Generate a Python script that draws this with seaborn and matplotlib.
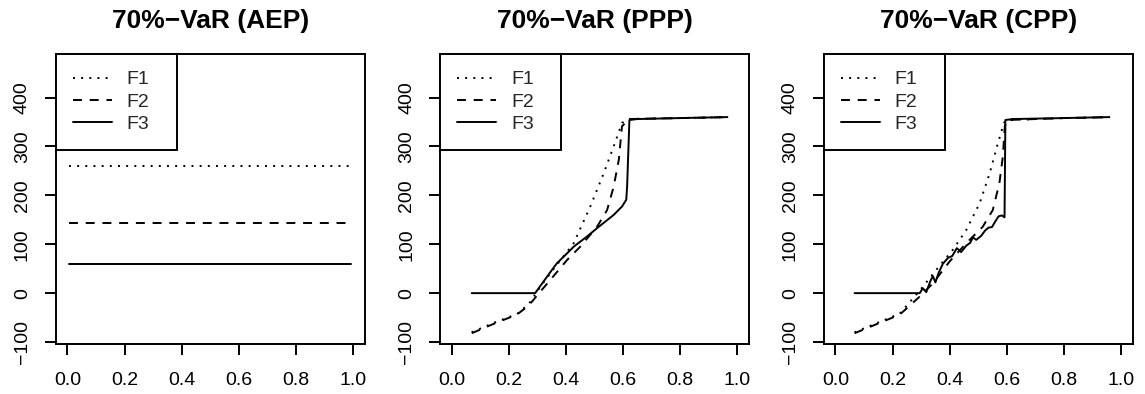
import numpy as np
import pandas as pd
import matplotlib
matplotlib.use("Agg")
import matplotlib.pyplot as plt
import seaborn as sns

# ---------------- data ----------------
titles = ["70%\u2212VaR (AEP)", "70%\u2212VaR (PPP)", "70%\u2212VaR (CPP)"]
labels = ["F1", "F2", "F3"]
x_ticks = [0.0, 0.2, 0.4, 0.6, 0.8, 1.0]
y_ticks = [-100, 0, 100, 200, 300, 400]

# AEP (constant levels)
aep_x = [0.007, 0.993]
aep_f1 = [260, 260]
aep_f2 = [143, 143]
aep_f3 = [59, 59]

# PPP
ppp_f1_x = [0.07, 0.15, 0.228, 0.27, 0.31, 0.368, 0.427, 0.485, 0.532, 0.567, 0.596, 0.62, 0.70, 0.80, 0.90, 0.965]
ppp_f1_y = [-80, -60, -43, -22, 13, 58, 102, 177, 245, 300, 348, 356, 357, 358, 359, 360]
ppp_f2_x = [0.07, 0.15, 0.228, 0.27, 0.31, 0.345, 0.404, 0.45, 0.509, 0.544, 0.567, 0.585, 0.596, 0.62, 0.70, 0.80, 0.90, 0.965]
ppp_f2_y = [-82, -62, -44, -25, 3, 27, 68, 95, 136, 170, 218, 273, 341, 356, 357, 358, 359, 360]
ppp_f3_x = [0.07, 0.292, 0.351, 0.368, 0.398, 0.427, 0.474, 0.509, 0.567, 0.596, 0.611, 0.614, 0.622, 0.65, 0.80, 0.965]
ppp_f3_y = [0, 0, 47.6, 61, 78, 95, 116, 133, 160, 177, 191, 218, 354, 356, 358, 360]

# CPP
cpp_f1_x = [0.067, 0.15, 0.225, 0.295, 0.353, 0.411, 0.458, 0.505, 0.54, 0.569, 0.59, 0.60, 0.70, 0.80, 0.90, 0.959]
cpp_f1_y = [-80, -60, -42, 5, 47.6, 88.6, 129, 184, 245, 307, 348, 354, 356, 358, 359, 360]
cpp_f2_x = [0.067, 0.15, 0.225, 0.295, 0.341, 0.40, 0.458, 0.516, 0.551, 0.574, 0.586, 0.593, 0.60, 0.70, 0.80, 0.90, 0.959]
cpp_f2_y = [-82, -62, -44, -7, 20, 65, 102, 136, 170, 225, 279, 341, 354, 356, 358, 359, 360]
cpp_f3_x = [0.067, 0.295, 0.306, 0.318, 0.332, 0.341, 0.35, 0.361, 0.376, 0.394, 0.409, 0.425, 0.44, 0.458,
            0.472, 0.481, 0.493, 0.51, 0.524, 0.536, 0.548, 0.559, 0.571, 0.583, 0.592, 0.595, 0.62, 0.80, 0.959]
cpp_f3_y = [0, 0, 10, 2, 24, 35, 22, 41, 60, 72, 76, 92, 84, 97,
            103, 114, 109, 117, 128, 134, 135, 146, 157, 159, 155, 354, 356, 358, 360]

panels = [
    [(aep_x, aep_f1), (aep_x, aep_f2), (aep_x, aep_f3)],
    [(ppp_f1_x, ppp_f1_y), (ppp_f2_x, ppp_f2_y), (ppp_f3_x, ppp_f3_y)],
    [(cpp_f1_x, cpp_f1_y), (cpp_f2_x, cpp_f2_y), (cpp_f3_x, cpp_f3_y)],
]

# ---------------- style ----------------
sns.set_theme(style="white")
plt.rcParams["font.family"] = ["Liberation Sans", "DejaVu Sans"]
LW = 1.4
styles = [(0, (1, 3.2)), (0, (4.6, 4.0)), "solid"]

W, H = 1145, 394
fig = plt.figure(figsize=(W / 100, H / 100), dpi=100)
lefts = [56, 440.3, 824]
aw, top, bot = 308.5, 54, 344

for i, (left, series) in enumerate(zip(lefts, panels)):
    ax = fig.add_axes([left / W, (H - bot) / H, aw / W, (bot - top) / H])
    handles = []
    for (xs, ys), ls, lab in zip(series, styles, labels):
        df = pd.DataFrame({"x": xs, "y": ys})
        sns.lineplot(data=df, x="x", y="y", ax=ax, color="black", linewidth=LW,
                     linestyle=ls, sort=False, estimator=None, label=lab)
        line = ax.get_lines()[-1]
        line.set_dash_capstyle("butt")
        handles.append(line)
    ax.set_xlim(-0.04, 1.04)
    ax.set_ylim(-104, 489)
    ax.set_xticks(x_ticks)
    ax.set_xticklabels([f"{v:.1f}" for v in x_ticks])
    ax.set_yticks(y_ticks)
    ax.set_yticklabels([str(v).replace("-", "\u2212") for v in y_ticks])
    ax.set_xlabel("")
    ax.set_ylabel("")
    for sp in ax.spines.values():
        sp.set_visible(True)
        sp.set_color("black")
        sp.set_linewidth(LW)
    ax.tick_params(axis="both", direction="out", length=8, width=LW, color="black",
                   labelsize=14, labelcolor="black")
    ax.tick_params(axis="x", pad=12)
    ax.tick_params(axis="y", pad=10)
    ax.tick_params(bottom=True, left=True, top=False, right=False)
    for t in ax.get_yticklabels():
        t.set_rotation(90)
        t.set_va("center")
    ax.set_title(titles[i], fontsize=19, fontweight="bold", pad=19, color="black")
    leg = ax.legend(handles=handles, labels=labels, loc="upper left",
                    bbox_to_anchor=(0, 1, 121 / aw, 0), mode="expand",
                    borderaxespad=0, fancybox=False, edgecolor="black", framealpha=1,
                    fontsize=14, handlelength=2.0, handletextpad=0.78,
                    borderpad=0.86, labelspacing=0.25)
    leg.get_frame().set_linewidth(LW)

fig.savefig("out.png", dpi=100, facecolor="white")
